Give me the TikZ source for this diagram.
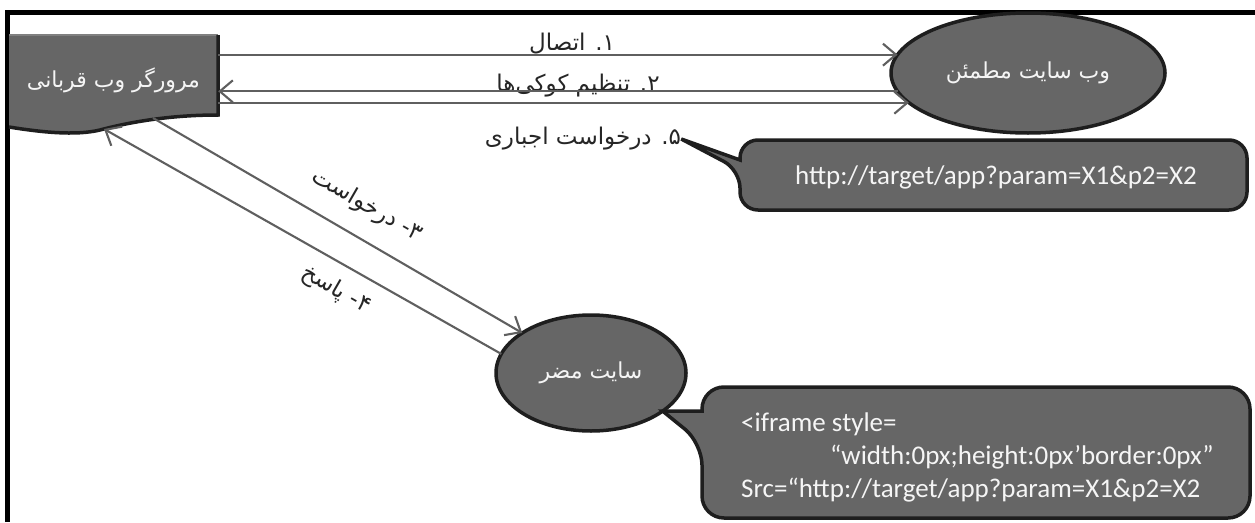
\documentclass[tikz,border=0pt]{standalone}
\usepackage{fontspec}
\newfontfamily\farsi[Script=Arabic]{DejaVu Sans}
\newfontfamily\calibri{Carlito}
\TeXXeTstate=1
\definecolor{boxgray}{RGB}{102, 102, 102}
\definecolor{arrowgray}{RGB}{95, 95, 95}
\definecolor{edgeblack}{RGB}{30, 30, 30}
\definecolor{paper}{RGB}{245, 245, 245}
\usetikzlibrary{shapes.geometric, arrows.meta, calc}

\begin{document}
\begin{tikzpicture}[x=1pt, y=-1pt,
  site/.style={ellipse, draw=edgeblack, line width=3.5pt, fill=boxgray, inner sep=0pt, outer sep=0pt,
    text=paper, font=\farsi\fontsize{22}{26}\selectfont},
  lbl/.style={font=\farsi\fontsize{23}{27}\selectfont, text=black!85, inner sep=0pt},
  flow/.style={draw=arrowgray, line width=2.1pt, -{Straight Barb[length=13pt, width=22pt]}},
  bubble/.style={draw=edgeblack, line width=3.5pt, fill=boxgray, line join=miter},
  code/.style={font=\calibri\fontsize{27}{33}\selectfont, text=paper, inner sep=0pt, align=left},
]
\useasboundingbox[fill=white] (0,0) rectangle (1255,522);

% frame
\draw[black, line width=5pt] (7.5,522) -- (7.5,12.5) -- (1255,12.5);

% victim browser
\fill[boxgray] (9,35) -- (218,35) -- (218,115) .. controls (170,115) and (130,122) .. (100,130)
  .. controls (75,136) and (40,132) .. (9,127) -- cycle;
\draw[gray, line width=1.5pt] (9,35) -- (218,35);
\draw[edgeblack, line width=3.5pt] (218,35) -- (218,115) .. controls (170,115) and (130,122) .. (100,130)
  .. controls (75,136) and (40,132) .. (9,127);
\node[font=\farsi\fontsize{22}{26}\selectfont, text=paper, inner sep=0pt, minimum width=209pt]
  (browser) at (113.5,80) {\beginR مرورگر وب قربانی\endR};
\coordinate (wave out) at (153,118);
\coordinate (wave in) at (104,129);

% sites
\node[site, minimum width=274pt, minimum height=120pt] (trusted) at (1028,73) {\beginR وب سایت مطمئن\endR};
\node[site, minimum width=190pt, minimum height=116pt] (evil) at (591,373) {\beginR سایت مضر\endR};

% steps
\node[lbl] (l1) at (572,44) {\beginR ۱. اتصال\endR};
\node[lbl] (l2) at (578,86) {\beginR ۲. تنظیم کوکی‌ها\endR};
\node[lbl] (l5) at (583,139) {\beginR ۵. درخواست اجباری\endR};
\node[lbl, rotate=-30] (l3) at (367,206) {\beginR ۳- درخواست\endR};
\node[lbl, rotate=-30] (l4) at (336,290) {\beginR ۴- پاسخ\endR};

\draw[flow] (browser.east |- trusted.172) -- (trusted.172);
\draw[flow] (trusted.188) -- (browser.east |- trusted.188);
\draw[flow] (browser.east |- trusted.194) -- (trusted.194);
\draw[flow] (wave out) -- (evil);
\draw[flow] (evil.168) -- (wave in);

% forged request callout
\coordinate (url nw) at (740,140);
\coordinate (url se) at (1247,210);
\draw[bubble] (l5.east) -- ($(url nw)+(0,20)$) [rounded corners=18pt] -- (url nw) -- (url nw -| url se)
  -- (url se) -- (url nw |- url se) -- ($(url nw)+(0,30)$) [sharp corners] -- cycle;
\node[code] (url) at (996,177) {http://target/app?param=X1\&p2=X2};

% iframe callout
\coordinate (ifr nw) at (702,387);
\coordinate (ifr se) at (1250,518);
\draw[bubble] (evil.-28) -- ($(ifr nw)+(0,24)$) [rounded corners=22pt] -- (ifr nw) -- (ifr nw -| ifr se)
  -- (ifr se) -- (ifr nw |- ifr se) -- ($(ifr nw)+(0,56)$) [sharp corners] -- cycle;
\node[code, anchor=north west] (iframe) at (741,413)
  {<iframe style=\\\hspace*{89pt}“width:0px;height:0px’border:0px”\\Src=“http://target/app?param=X1\&p2=X2};
\end{tikzpicture}
\end{document}
